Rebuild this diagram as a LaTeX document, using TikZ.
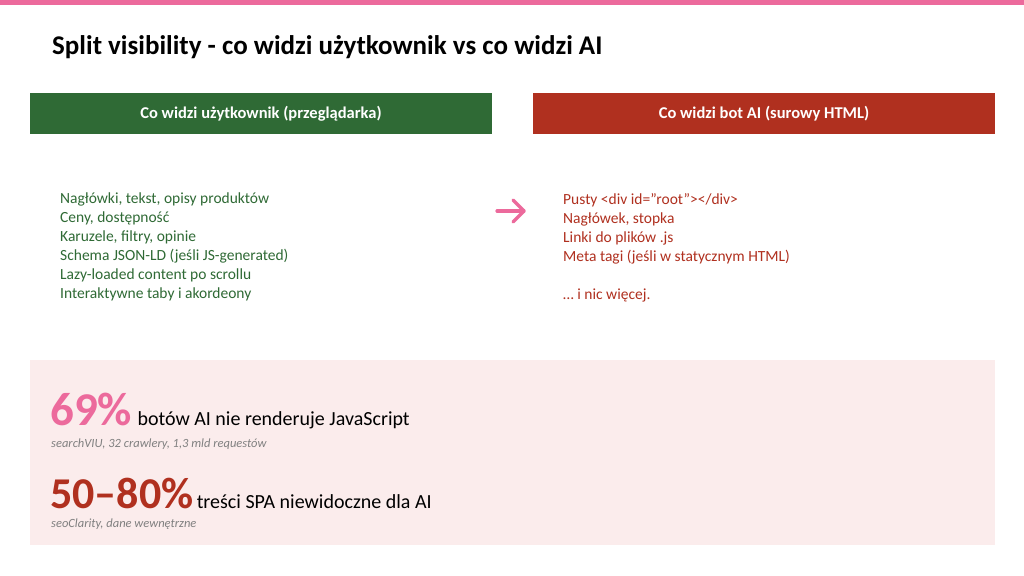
\documentclass[tikz,border=0pt]{standalone}
\usepackage{fontspec}
\setmainfont{Carlito}
\definecolor{gr}{HTML}{2F6A35}
\definecolor{rd}{HTML}{B0301F}
\definecolor{pk}{HTML}{EC6A9C}
\definecolor{panel}{HTML}{FBECEC}
\definecolor{src}{HTML}{808080}
\tikzset{hdr/.style={minimum width=462pt,minimum height=41pt,inner sep=0pt,text=white,font=\fontsize{16.5}{18}\selectfont\bfseries},
lst/.style={anchor=north west,align=left,inner sep=0pt,font=\fontsize{15.5}{19}\selectfont}}
\begin{document}
\begin{tikzpicture}[x=1pt,y=-1pt]
\useasboundingbox (0,0) rectangle (1024,575);
\fill[white] (0,0) rectangle (1024,575);
\fill[pk] (0,0) rectangle (1024,5);
\node[anchor=west,inner sep=0pt,font=\fontsize{27}{29}\selectfont\bfseries] (title) at (52,47) {Split visibility - co widzi użytkownik vs co widzi AI};
\node[hdr,fill=gr] (lh) at (261,113.5) {Co widzi użytkownik (przeglądarka)};
\node[hdr,fill=rd] (rh) at (764,113.5) {Co widzi bot AI (surowy HTML)};
\node[lst,text=gr] (ll) at (60,193) {Nagłówki, tekst, opisy produktów\\Ceny, dostępność\\Karuzele, filtry, opinie\\Schema JSON-LD (jeśli JS-generated)\\Lazy-loaded content po scrollu\\Interaktywne taby i akordeony};
\node[lst,text=rd] (rl) at (563,193) {Pusty <div id="root"></div>\\Nagłówek, stopka\\Linki do plików .js\\Meta tagi (jeśli w statycznym HTML)\\[19pt]… i nic więcej.};
\coordinate (a1) at (497,211);
\coordinate (a2) at (524,211);
\draw[pk,line width=3.2pt,line cap=round] (a1) -- (a2);
\draw[pk,line width=3.2pt,line cap=round,line join=round] (513,200) -- (a2) -- (513,222);
\fill[panel] (30,360) rectangle (995,545);
\node[anchor=base west,inner sep=0pt,text=pk,font=\fontsize{47}{49}\selectfont\bfseries] (p1) at (50,425) {69\%};
\node[anchor=base west,inner sep=0pt,font=\fontsize{20}{22}\selectfont] at ([xshift=5pt]p1.base east) {botów AI nie renderuje JavaScript};
\node[anchor=base west,inner sep=0pt,text=src,font=\fontsize{12.5}{14}\selectfont\itshape] (s1) at (51,447) {searchVIU, 32 crawlery, 1,3 mld requestów};
\node[anchor=base west,inner sep=0pt,text=rd,font=\fontsize{44}{46}\selectfont\bfseries] (p2) at (50,508) {50–80\%};
\node[anchor=base west,inner sep=0pt,font=\fontsize{20}{22}\selectfont] at ([xshift=3pt]p2.base east) {treści SPA niewidoczne dla AI};
\node[anchor=base west,inner sep=0pt,text=src,font=\fontsize{12.5}{14}\selectfont\itshape] (s2) at (51,527) {seoClarity, dane wewnętrzne};
\end{tikzpicture}
\end{document}
